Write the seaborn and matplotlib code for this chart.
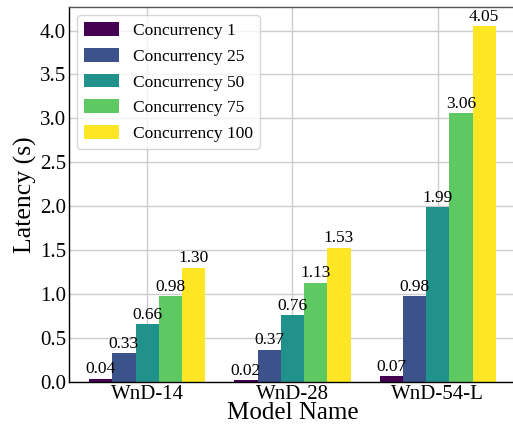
import matplotlib
matplotlib.use("Agg")
import matplotlib.pyplot as plt
import numpy as np
import pandas as pd
import seaborn as sns

models = ["WnD-14", "WnD-28", "WnD-54-L"]
levels = ["Concurrency 1", "Concurrency 25", "Concurrency 50", "Concurrency 75", "Concurrency 100"]
conc_1 = [0.04, 0.02, 0.07]
conc_25 = [0.33, 0.37, 0.98]
conc_50 = [0.66, 0.76, 1.99]
conc_75 = [0.98, 1.13, 3.06]
conc_100 = [1.30, 1.53, 4.05]

series = [conc_1, conc_25, conc_50, conc_75, conc_100]
rows = []
for level, values in zip(levels, series):
    for model, value in zip(models, values):
        rows.append({"Model Name": model, "Level": level, "Latency": value})
df = pd.DataFrame(rows)

# viridis sampled end to end, like plt.cm.viridis(np.linspace(0, 1, 5))
colors = [matplotlib.colors.to_hex(c) for c in plt.cm.viridis(np.linspace(0, 1, len(levels)))]

sns.set_theme(style="whitegrid")
plt.rcParams["font.family"] = ["Liberation Serif", "DejaVu Serif"]
plt.rcParams["axes.edgecolor"] = "black"
plt.rcParams["grid.color"] = "#cccccc"
for key in ("text.color", "axes.labelcolor", "xtick.color", "ytick.color"):
    plt.rcParams[key] = "black"

fig, ax = plt.subplots(figsize=(5.13, 4.25), dpi=100)
fig.subplots_adjust(left=0.134, right=1.006, bottom=0.101, top=0.984)

sns.barplot(data=df, x="Model Name", y="Latency", hue="Level", hue_order=levels,
            order=models, palette=colors, width=0.8, saturation=1, linewidth=0,
            ax=ax)

for container in ax.containers:
    ax.bar_label(container, fmt="%.2f", fontsize=12.5, padding=1, color="black")

ax.set_xlim(-0.54, 2.54)
ax.set_ylim(0, 4.27)
ax.set_yticks([0, 0.5, 1.0, 1.5, 2.0, 2.5, 3.0, 3.5, 4.0])
ax.set_xlabel("Model Name", fontsize=18, labelpad=-1)
ax.set_ylabel("Latency (s)", fontsize=18.5, labelpad=2)
ax.tick_params(axis="both", labelsize=15, direction="in", length=0, pad=2,
               labelcolor="black")
ax.grid(True, axis="both", color="#cccccc", linewidth=1)
ax.set_axisbelow(True)
for spine in ax.spines.values():
    spine.set_color("black")
    spine.set_linewidth(1)
ax.spines["top"].set_color("#555555")

sns.move_legend(ax, "upper left", title=None, fontsize=12.5, frameon=True,
                borderaxespad=0.5, handlelength=2.0, handleheight=0.85)

fig.savefig("out.png", dpi=100)
